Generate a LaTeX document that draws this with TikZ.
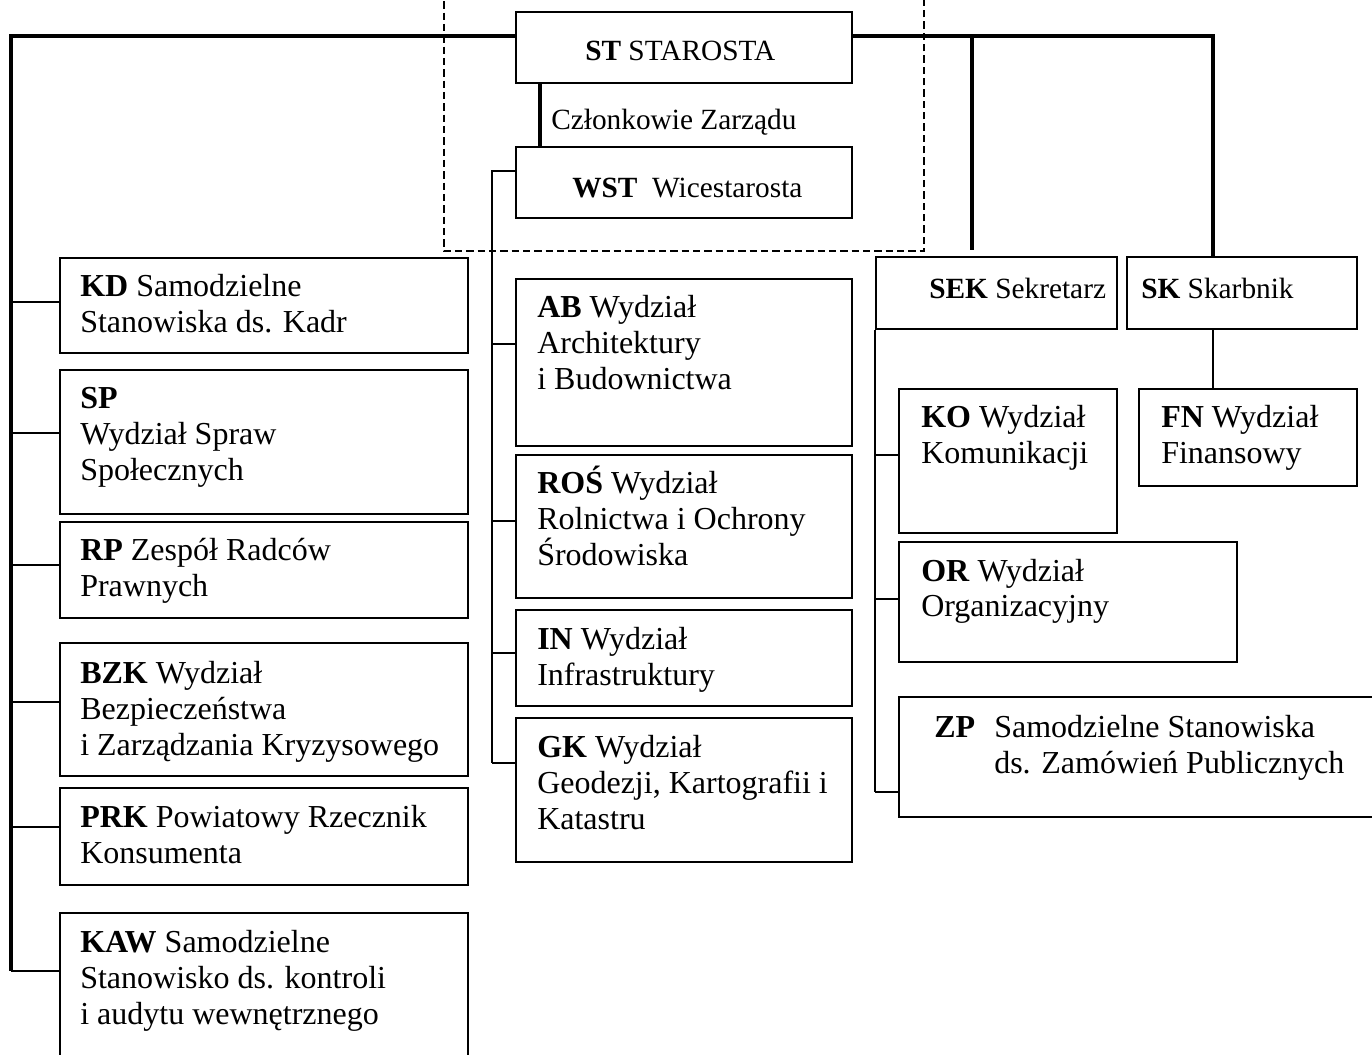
\documentclass[tikz,border=0pt]{standalone}
\usepackage{fontspec}
\setmainfont{Liberation Serif}
\usetikzlibrary{fit}
\newcommand{\mlines}[1]{\begin{tabular}[t]{@{}l@{}}#1\end{tabular}}
\begin{document}
\begin{tikzpicture}[x=0.75pt,y=-0.75pt,
  box/.style={draw, line width=1.5pt, inner sep=0pt, rectangle},
  txt/.style={inner sep=0pt, anchor=base west, font=\fontsize{24pt}{27pt}\selectfont},
  hdr/.style={inner sep=0pt, anchor=base west, font=\fontsize{22pt}{26pt}\selectfont},
  spine/.style={line width=3pt},
  conn/.style={line width=1.3pt},
  dashbox/.style={line width=1.1pt, dash pattern=on 5.5pt off 3pt}]
\useasboundingbox (0,0) rectangle (1372,1055);

% ---------- boxes ----------
\node[box, fit={(516,12)(852,83)}] (st) {};
\node[box, fit={(516,147)(852,218)}] (wst) {};
\node[box, fit={(876,257)(1117,329)}] (sek) {};
\node[box, fit={(1127,257)(1357,329)}] (sk) {};

\node[box, fit={(60,258)(468,353)}] (kd) {};
\node[box, fit={(60,370)(468,514)}] (sp) {};
\node[box, fit={(60,522)(468,618)}] (rp) {};
\node[box, fit={(60,643)(468,776)}] (bzk) {};
\node[box, fit={(60,788)(468,885)}] (prk) {};
\node[box, fit={(60,913)(468,1080)}] (kaw) {};

\node[box, fit={(516,279)(852,446)}] (ab) {};
\node[box, fit={(516,455)(852,598)}] (ros) {};
\node[box, fit={(516,610)(852,706)}] (in) {};
\node[box, fit={(516,718)(852,862)}] (gk) {};

\node[box, fit={(899,389)(1117,533)}] (ko) {};
\node[box, fit={(1139,389)(1357,486)}] (fn) {};
\node[box, fit={(899,542)(1237,662)}] (or) {};
\node[box, fit={(899,697)(1385,817)}] (zp) {};

% ---------- texts ----------
\node[hdr] (stt) at (585,61) {\textbf{ST} STAROSTA};
\node[hdr] (czl) at (551,130) {Członkowie Zarządu};
\node[hdr] (wstt) at (572,198) {\textbf{WST}\hspace{0.5em}Wicestarosta};
\node[hdr] (sekt) at (929,299) {\textbf{SEK} Sekretarz};
\node[hdr] (skt) at (1141,299) {\textbf{SK} Skarbnik};

\node[txt] (kdt) at (80,297) {\mlines{\textbf{KD} Samodzielne\\Stanowiska ds. Kadr}};
\node[txt] (spt) at (80,409) {\mlines{\textbf{SP}\\Wydział Spraw\\Społecznych}};
\node[txt] (rpt) at (80,561) {\mlines{\textbf{RP} Zespół Radców\\Prawnych}};
\node[txt] (bzkt) at (80,683) {\mlines{\textbf{BZK} Wydział\\Bezpieczeństwa\\i Zarządzania Kryzysowego}};
\node[txt] (prkt) at (80,827) {\mlines{\textbf{PRK} Powiatowy Rzecznik\\Konsumenta}};
\node[txt] (kawt) at (80,952) {\mlines{\textbf{KAW} Samodzielne\\Stanowisko ds. kontroli\\i audytu wewnętrznego}};

\node[txt] (abt) at (537,318) {\mlines{\textbf{AB} Wydział\\Architektury\\i Budownictwa}};
\node[txt] (rost) at (537,494) {\mlines{\textbf{ROŚ} Wydział\\Rolnictwa i Ochrony\\\smash{Ś}rodowiska}};
\node[txt] (int) at (537,649) {\mlines{\textbf{IN} Wydział\\Infrastruktury}};
\node[txt] (gkt) at (537,757) {\mlines{\textbf{GK} Wydział\\Geodezji, Kartografii i\\Katastru}};

\node[txt] (kot) at (921,428) {\mlines{\textbf{KO} Wydział\\Komunikacji}};
\node[txt] (fnt) at (1161,428) {\mlines{\textbf{FN} Wydział\\Finansowy}};
\node[txt] (ort) at (921,581) {\mlines{\textbf{OR} Wydział\\Organizacyjny}};
\node[txt] (zpa) at (934,737) {\textbf{ZP}};
\node[txt] (zpb) at (994,737) {\mlines{Samodzielne Stanowiska\\ds. Zamówień Publicznych}};

% ---------- dashed group ----------
\draw[dashbox] (444,-10) -- (444,251) -- (924,251) -- (924,-10);

% ---------- thick lines ----------
\coordinate (ltop) at (11,36);
\coordinate (lbot) at (11,971);
\coordinate (rtop) at (1213,36);
\coordinate (sekc) at (972,250);
\draw[spine] (st.west |- ltop) -- (ltop) -- (lbot);
\draw[spine] (st.east |- rtop) -- (rtop) -- (rtop |- sk.north);
\draw[spine] (sekc |- ltop) -- (sekc);
\draw[spine] (st.south -| 540,0) -- (wst.north -| 540,0);

% ---------- left branches ----------
\foreach \n/\yy in {kd/302, sp/433, rp/565, bzk/702, prk/827, kaw/971}
  \draw[conn] (ltop |- 0,\yy) -- (\n.west |- 0,\yy);

% ---------- middle branches ----------
\coordinate (mtop) at (492,171);
\draw[conn] (wst.west |- mtop) -- (mtop) -- (mtop |- 0,763);
\foreach \n/\yy in {ab/344, ros/521, in/653, gk/763}
  \draw[conn] (mtop |- 0,\yy) -- (\n.west |- 0,\yy);

% ---------- right branches ----------
\draw[conn] (sek.south west) -- (sek.south west |- 0,792);
\foreach \n/\yy in {ko/455, or/599, zp/792}
  \draw[conn] (sek.south west |- 0,\yy) -- (\n.west |- 0,\yy);
\draw[conn] (sk.south -| rtop) -- (fn.north -| rtop);
\end{tikzpicture}
\end{document}
